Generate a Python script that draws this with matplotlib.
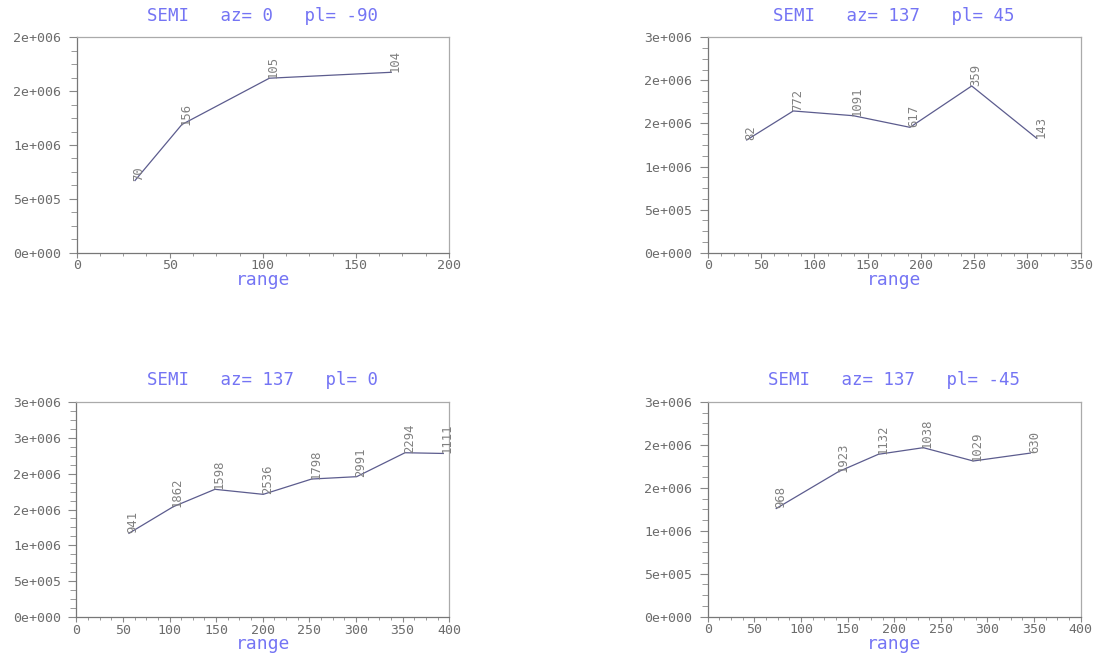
import numpy as np
import matplotlib
matplotlib.use("Agg")
import matplotlib.pyplot as plt
from matplotlib.ticker import MultipleLocator, AutoMinorLocator, FuncFormatter

# lag distance, semivariogram value and number of pairs for each direction
range_vert = [31.3, 56.5, 103.5, 169.0]
gamma_vert = [0.67e6, 1.19e6, 1.62e6, 1.675e6]
pairs_vert = ["70", "156", "105", "104"]

range_45 = [36.6, 80.3, 136.6, 189.8, 247.7, 308.7]
gamma_45 = [1.308e6, 1.645e6, 1.59e6, 1.455e6, 1.935e6, 1.328e6]
pairs_45 = ["82", "772", "1091", "617", "359", "143"]

range_0 = [56.5, 104.0, 148.7, 200.5, 252.4, 300.7, 352.5, 393.6]
gamma_0 = [1.169e6, 1.539e6, 1.781e6, 1.711e6, 1.924e6, 1.957e6, 2.29e6, 2.28e6]
pairs_0 = ["941", "1862", "1598", "2536", "1798", "2991", "2294", "1111"]

range_m45 = [73.5, 140.1, 183.0, 231.2, 284.8, 346.0]
gamma_m45 = [1.26e6, 1.688e6, 1.891e6, 1.968e6, 1.813e6, 1.905e6]
pairs_m45 = ["968", "1923", "1132", "1038", "1029", "630"]

titles = ["SEMI   az= 0   pl= -90", "SEMI   az= 137   pl= 45",
          "SEMI   az= 137   pl= 0", "SEMI   az= 137   pl= -45"]
xmax = [200, 350, 400, 400]
ymax = [2.0e6, 2.5e6, 3.0e6, 2.5e6]

MONO = "DejaVu Sans Mono"
BLUE = "#7474f4"
GRAY = "#6c6c6c"
LINE = "#5c5c8e"


def sci(v, pos):
    # old-style exponent with three digits, mantissa rounded half up
    if v == 0:
        return "0e+000"
    e = int(np.floor(np.log10(abs(v))))
    m = int(v / 10 ** e + 0.5)
    if m == 10:
        m, e = 1, e + 1
    return f"{m}e+{e:03d}"


def semi_plot(ax, x, y, npairs, title, xm, ym):
    ax.plot(x, y, color=LINE, lw=0.9)
    for xi, yi, s in zip(x, y, npairs):
        ax.annotate(s, (xi, yi), xytext=(3, 0), textcoords="offset points",
                    rotation=90, ha="center", va="bottom", fontsize=8.8,
                    family=MONO, color="#808080", annotation_clip=False)
    ax.set_xlim(0, xm)
    ax.set_ylim(0, ym)
    ax.xaxis.set_major_locator(MultipleLocator(50))
    ax.xaxis.set_minor_locator(AutoMinorLocator(4))
    ax.yaxis.set_major_locator(MultipleLocator(5e5))
    ax.yaxis.set_minor_locator(AutoMinorLocator(4))
    ax.yaxis.set_major_formatter(FuncFormatter(sci))
    ax.tick_params(axis="y", which="major", length=6, width=0.8, color="#888888",
                   labelsize=9.5, labelcolor=GRAY, pad=5)
    ax.tick_params(axis="y", which="minor", length=4, width=0.7, color="#999999")
    ax.tick_params(axis="x", which="major", length=3.5, width=0.8, color="#888888",
                   labelsize=9.5, labelcolor=GRAY, pad=1)
    ax.tick_params(axis="x", which="minor", length=2.5, width=0.7, color="#999999")
    for lab in ax.get_xticklabels() + ax.get_yticklabels():
        lab.set_family(MONO)
    for side in ["left", "bottom"]:
        ax.spines[side].set_color("#777777")
        ax.spines[side].set_linewidth(0.9)
    for side in ["top", "right"]:
        ax.spines[side].set_color("#aaaaaa")
        ax.spines[side].set_linewidth(0.9)
    ax.set_title(title, color=BLUE, fontsize=12.5, family=MONO, pad=12)
    ax.set_xlabel("range", color=BLUE, fontsize=13, family=MONO, labelpad=-1)


fig = plt.figure(figsize=(11.02, 6.53), dpi=100)
boxes = [[0.0696, 0.6130, 0.3378, 0.3299],
         [0.6422, 0.6130, 0.3385, 0.3299],
         [0.0692, 0.0547, 0.3385, 0.3301],
         [0.6422, 0.0556, 0.3385, 0.3288]]
data = [(range_vert, gamma_vert, pairs_vert),
        (range_45, gamma_45, pairs_45),
        (range_0, gamma_0, pairs_0),
        (range_m45, gamma_m45, pairs_m45)]

for i in range(4):
    ax = fig.add_axes(boxes[i])
    x, y, n = data[i]
    semi_plot(ax, x, y, n, titles[i], xmax[i], ymax[i])

fig.savefig("out.png", dpi=100)
